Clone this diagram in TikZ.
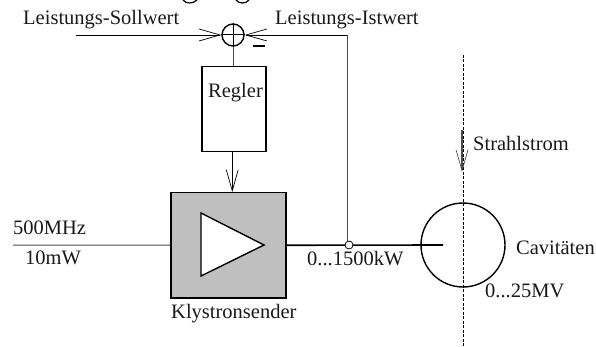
\documentclass[tikz,border=0pt]{standalone}
\usepackage{fontspec}
\setmainfont{Liberation Serif}
\usepackage{tikz}
\usetikzlibrary{arrows.meta, calc}
\tikzset{
  lbl/.style={inner sep=0pt, font=\fontsize{20.5}{24}\selectfont, text=black!90},
  vtip/.style={-{Straight Barb[length=21pt,width=12pt,line width=0.7pt]}},
  wire/.style={draw=black!70, line width=1pt},
  box/.style={draw, line width=1.5pt, anchor=north west, inner sep=0pt}
}
\begin{document}
\begin{tikzpicture}[x=1pt,y=-1pt]
  \useasboundingbox (0,0) rectangle (596,347);

  % Cut off at the top edge
  \draw[line width=1.2pt] (183,0) .. controls (186,4) and (193,4) .. (197,0);
  \draw[line width=1.2pt] (236,0) .. controls (239,4) and (246,4) .. (249,0);

  % Summing point
  \node[draw, circle, line width=1.4pt, minimum size=22pt, inner sep=0pt] (sum) at (233,35) {};
  \draw[line width=1pt] (sum.west) -- (sum.east);
  \draw[line width=1pt] (sum.north) -- (sum.south);
  \node[draw, fill=black, inner sep=0pt, minimum width=11pt, minimum height=1.5pt] (minus) at (259,45.5) {};

  % Boxes
  \node[box, minimum width=64pt, minimum height=85pt] (regler) at (201,66) {};
  \node[box, fill=black!25, minimum width=115pt, minimum height=105pt] (sender) at (170,192) {};
  \coordinate (tria) at (201,213);
  \coordinate (trib) at (201,276);
  \coordinate (tric) at (264,245);
  \draw[line width=1.4pt, fill=white] (tria) -- (tric) -- (trib) -- cycle;

  % Cavity and beam
  \node[draw, circle, line width=1.4pt, minimum size=84pt, inner sep=0pt] (cav) at (463,245) {};
  \coordinate (beamtop) at (463,55);
  \coordinate (beambot) at (463,347);
  \draw[line width=0.9pt, dash pattern=on 3pt off 1.5pt] (beamtop) -- (beambot);
  \coordinate (beama) at (462,130);
  \coordinate (beamb) at (462,172);
  \draw[vtip, line width=1.3pt, black!70] (beama) -- (beamb);

  % Connectors
  \coordinate (sollin) at (76,35);
  \coordinate (istin) at (347,35);
  \coordinate (rfin) at (13,245);
  \coordinate (coupl) at (443,245);
  \draw[vtip, line width=0.8pt] (sollin) -- (sum.west);
  \draw[vtip, line width=0.8pt] (istin) -- (sum.east);
  \draw[wire] (sum.south) -- (regler.north -| sum.south);
  \draw[vtip, line width=0.7pt] ($(regler.south)+(-1.5,0)$) -- ($(sender.north)+(4,0)$);
  \draw[wire] (rfin) -- (sender.west);
  \draw[line width=1.6pt] (sender.east) -- (coupl);
  \node[draw, circle, fill=white, line width=0.8pt, minimum size=8pt, inner sep=0pt] (tap) at (349,245) {};
  \draw[wire] (tap.north -| istin) -- (istin);

  % Labels
  \node[lbl, anchor=base west] (sollwert) at (23,25) {Leistungs-Sollwert};
  \node[lbl, anchor=base west] (istwert) at (275,25) {Leistungs-Istwert};
  \node[lbl, anchor=base west] (reglertxt) at (208,98) {Regler};
  \node[lbl, anchor=base west] (mhz) at (13,234) {500MHz};
  \node[lbl, anchor=base west] (mw) at (25,264) {10mW};
  \node[lbl, anchor=base west] (klystron) at (171,318) {Klystronsender};
  \node[lbl, anchor=base west] (kw) at (307,265) {0...1500kW};
  \node[lbl, anchor=base west] (cavtxt) at (516,254) {Cavitäten};
  \node[lbl, anchor=base west] (mv) at (485,297) {0...25MV};
  \node[lbl, anchor=base west] (strahl) at (473,151) {Strahlstrom};
\end{tikzpicture}
\end{document}
